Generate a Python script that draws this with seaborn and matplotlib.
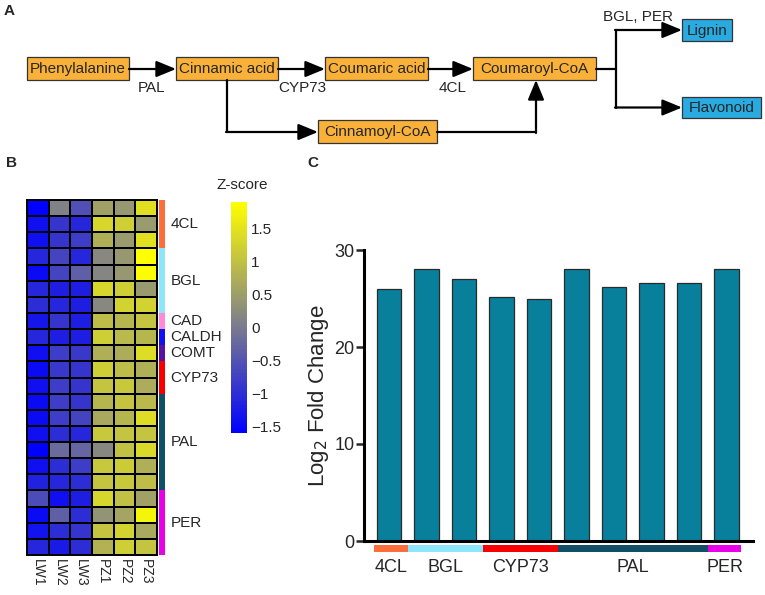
import numpy as np
import pandas as pd
import matplotlib
matplotlib.use('Agg')
import matplotlib.pyplot as plt
import matplotlib.transforms as mtransforms
from matplotlib.colors import LinearSegmentedColormap, ListedColormap
from matplotlib.patches import Rectangle
import seaborn as sns

# ==================== DATA ====================
samples = ['LW1', 'LW2', 'LW3', 'PZ1', 'PZ2', 'PZ3']
row_genes = ['4CL'] * 3 + ['BGL'] * 4 + ['CAD', 'CALDH', 'COMT'] + ['CYP73'] * 2 + ['PAL'] * 6 + ['PER'] * 4

# z-scores, one list per sample column (22 rows)
z_lw1 = [-1.6, -1.4, -1.4, -1.1, -1.45, -1.1, -1.0, -1.3, -1.1, -1.4, -1.45,
         -1.4, -1.45, -1.45, -1.4, -1.6, -1.4, -1.15, -0.6, -1.45, -1.35, -1.1]
z_lw2 = [0.1, -0.9, -0.9, -0.7, -0.7, -1.2, -1.1, -0.9, -1.2, -0.8, -0.85,
         -0.8, -0.8, -0.8, -1.0, -0.2, -1.0, -1.1, -1.4, -0.35, -1.0, -1.25]
z_lw3 = [-0.55, -1.1, -0.8, -1.1, -0.35, -1.2, -1.2, -1.2, -1.2, -0.85, -0.9,
         -0.9, -0.9, -0.7, -1.1, -0.25, -0.8, -1.0, -1.2, -1.0, -0.9, -1.0]
z_pz1 = [0.55, 1.3, 0.75, 0.2, 0.15, 1.3, 0.2, 0.95, 1.2, 0.75, 1.2,
         1.05, 0.85, 0.65, 1.1, 0.2, 1.1, 1.05, 1.3, 0.35, 1.05, 0.8]
z_pz2 = [0.4, 1.2, 0.45, 0.4, 0.4, 1.2, 1.25, 0.85, 0.9, 0.7, 0.95,
         1.1, 1.05, 0.85, 1.05, 1.0, 1.15, 1.1, 1.0, 0.6, 1.25, 1.2]
z_pz3 = [1.45, 0.45, 1.45, 1.9, 1.85, 0.45, 1.25, 1.05, 0.85, 1.4, 0.75,
         0.7, 0.9, 1.4, 1.05, 1.35, 0.75, 0.95, 0.55, 1.75, 0.65, 1.05]

gene_groups = ['4CL', 'BGL', 'CAD', 'CALDH', 'COMT', 'CYP73', 'PAL', 'PER']
group_colors = ['#FF6E3A', '#8DE6FB', '#FF8AD8', '#1010F0', '#5A10A0', '#F80000', '#104F66', '#E800E8']

# log2 fold change bars
bar_genes = ['4CL', 'BGL', 'BGL', 'CYP73', 'CYP73', 'PAL', 'PAL', 'PAL', 'PAL', 'PER']
log2fc = [26.0, 28.0, 27.0, 25.2, 25.0, 28.0, 26.2, 26.6, 26.6, 28.0]

# ==================== STYLE ====================
sns.set_style('white')
plt.rcParams['font.family'] = ['Liberation Sans', 'DejaVu Sans']

W, H = 765, 595
def rect(x0, y0, x1, y1):
    # pixel box (top-left origin) -> figure fraction
    return [x0 / W, 1 - y1 / H, (x1 - x0) / W, (y1 - y0) / H]

fig = plt.figure(figsize=(W / 100, H / 100), dpi=100)

# ==================== PANEL A: pathway ====================
ax_a = fig.add_axes([0, 0, 1, 1])
ax_a.set_xlim(0, W)
ax_a.set_ylim(H, 0)
ax_a.axis('off')

ORANGE, BLUE = '#F9B13A', '#29ABE2'
nodes = {
    'Phenylalanine': ((27, 129, 57, 80), ORANGE),
    'Cinnamic acid': ((176, 278, 57, 80), ORANGE),
    'Coumaric acid': ((325, 428, 57, 80), ORANGE),
    'Coumaroyl-CoA': ((473, 596, 57, 80), ORANGE),
    'Cinnamoyl-CoA': ((318, 437, 120, 143), ORANGE),
    'Lignin': ((682, 732, 19, 41), BLUE),
    'Flavonoid': ((682, 761, 97, 118), BLUE),
}
for name, ((x0, x1, y0, y1), c) in nodes.items():
    ax_a.add_patch(Rectangle((x0, y0), x1 - x0, y1 - y0, fc=c, ec='#333333', lw=0.9))
    ax_a.text((x0 + x1) / 2, (y0 + y1) / 2 + 0.5, name, ha='center', va='center', fontsize=11)

arrow_kw = dict(arrowstyle='-|>,head_length=0.8,head_width=0.33', lw=1.6, color='black',
                shrinkA=0, shrinkB=0, mutation_scale=15)
def arrow(p0, p1):
    ax_a.annotate('', xy=p1, xytext=p0, arrowprops=arrow_kw)

arrow((129, 69), (176, 69))
arrow((278, 69), (325, 69))
arrow((428, 69), (473, 69))
ax_a.plot([227, 227], [80, 132], color='black', lw=1.6)
arrow((226, 132), (318, 132))
ax_a.plot([437, 536], [132, 132], color='black', lw=1.6)
arrow((536, 133), (536, 80))
ax_a.plot([596, 616], [69, 69], color='black', lw=1.6)
ax_a.plot([616, 616], [30, 107.5], color='black', lw=1.6)
arrow((615, 30), (682, 30))
arrow((615, 107.5), (682, 107.5))

for txt, (x, y) in {'PAL': (152, 88), 'CYP73': (302, 88), '4CL': (453, 88), 'BGL, PER': (638, 17)}.items():
    ax_a.text(x, y, txt, ha='center', va='center', fontsize=11)

for lab, (x, y) in {'A': (9, 11), 'B': (12, 163), 'C': (313, 163)}.items():
    ax_a.text(x, y, lab, ha='center', va='center', fontsize=11, fontweight='bold')

# ==================== PANEL B: heatmap ====================
hm_df = pd.DataFrame({'LW1': z_lw1, 'LW2': z_lw2, 'LW3': z_lw3,
                      'PZ1': z_pz1, 'PZ2': z_pz2, 'PZ3': z_pz3})[samples]
vals = hm_df.values
cmap = LinearSegmentedColormap.from_list('bgy', ['#0000FF', '#858585', '#FFFF00'])

ax_hm = fig.add_axes(rect(27, 200, 157, 555))
ax_ann = fig.add_axes(rect(159, 200, 165, 555))
ax_cb = fig.add_axes(rect(231, 202, 247, 433))

sns.heatmap(hm_df, ax=ax_hm, cmap=cmap, vmin=vals.min(), vmax=vals.max(),
            linewidths=1.4, linecolor='black', cbar_ax=ax_cb,
            xticklabels=samples, yticklabels=False)
for sp in ax_hm.spines.values():
    sp.set_visible(True)
    sp.set_linewidth(1.4)
    sp.set_color('black')
ax_hm.tick_params(axis='x', length=0, pad=3)
ax_hm.set_xticklabels(samples, rotation=270, fontsize=10, va='top')
ax_hm.set_xlabel('')
ax_hm.set_ylabel('')

cb = ax_hm.collections[0].colorbar
cb.outline.set_visible(False)
cb.set_ticks([-1.5, -1, -0.5, 0, 0.5, 1, 1.5])
cb.set_ticklabels(['\u22121.5', '\u22121', '\u22120.5', '0', '0.5', '1', '1.5'])
cb.ax.tick_params(length=0, labelsize=11, pad=3)
fig.text(242 / W, 1 - 185 / H, 'Z-score', ha='center', va='center', fontsize=11)

# row annotation strip
grp_idx = pd.DataFrame({'g': [gene_groups.index(g) for g in row_genes]})
sns.heatmap(grp_idx, ax=ax_ann, cmap=ListedColormap(group_colors), vmin=-0.5,
            vmax=len(gene_groups) - 0.5, cbar=False, xticklabels=False, yticklabels=False)
rows = np.array(row_genes)
for g in gene_groups:
    pos = np.where(rows == g)[0]
    ax_ann.text(1.9, pos.mean() + 0.5, g, ha='left', va='center', fontsize=11, clip_on=False)

# ==================== PANEL C: bar chart ====================
ax_c = fig.add_axes(rect(364, 250, 753, 541))
bar_df = pd.DataFrame({'pos': [f'b{i}' for i in range(len(log2fc))], 'gene': bar_genes, 'lfc': log2fc})
sns.barplot(data=bar_df, x='pos', y='lfc', ax=ax_c, color='#087F9B', width=0.65,
            edgecolor='#2a2a2a', linewidth=0.9, saturation=1)
ax_c.set_xlim(-0.667, 9.71)
ax_c.set_ylim(0, 30)
ax_c.set_yticks([0, 10, 20, 30])
ax_c.set_xticks([])
ax_c.set_xlabel('')
ax_c.set_ylabel('Log$_2$ Fold Change', fontsize=16, labelpad=2)
ax_c.tick_params(axis='y', length=6, width=1.8, labelsize=13, pad=1, left=True)
sns.despine(ax=ax_c)
for side in ['left', 'bottom']:
    ax_c.spines[side].set_linewidth(2.2)
    ax_c.spines[side].set_color('black')

trans = mtransforms.blended_transform_factory(ax_c.transData, ax_c.transAxes)
genes_arr = np.array(bar_genes)
for g in dict.fromkeys(bar_genes):
    pos = np.where(genes_arr == g)[0]
    x0 = max(pos.min() - 0.5, -0.4)
    x1 = min(pos.max() + 0.5, 9.4)
    col = group_colors[gene_groups.index(g)]
    ax_c.add_patch(Rectangle((x0, -0.038), x1 - x0, 0.024, transform=trans,
                             fc=col, ec='none', clip_on=False))
    ax_c.text((x0 + x1) / 2, -0.09, g, transform=trans, ha='center', va='center', fontsize=13)

fig.savefig('out.png', dpi=100)
